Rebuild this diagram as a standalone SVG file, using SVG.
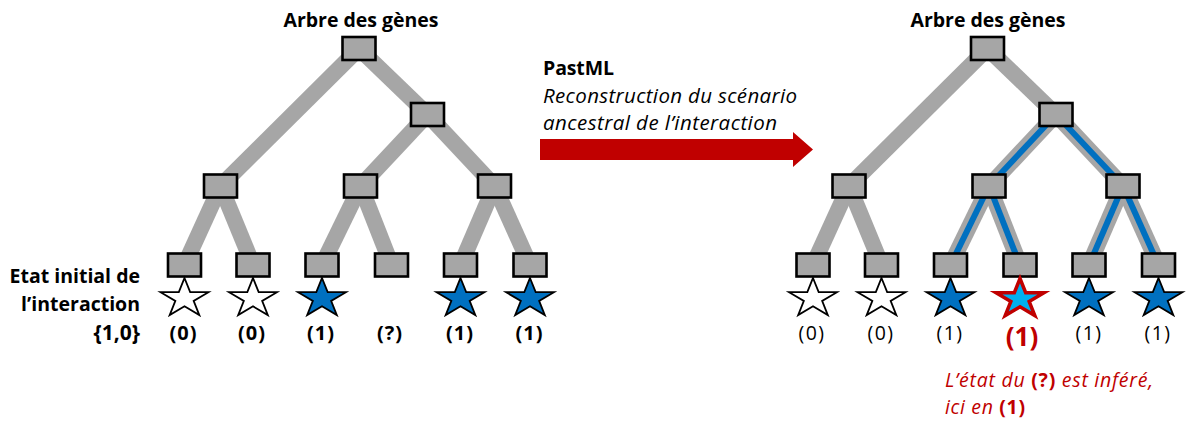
<svg xmlns="http://www.w3.org/2000/svg" xmlns:xlink="http://www.w3.org/1999/xlink" width="1186" height="424" viewBox="0 0 1186 424">
<defs>
<style>
text{font-family:"Open Sans","Liberation Sans",sans-serif;}
.title{font-size:19.5px;font-weight:bold;text-anchor:middle;fill:#000;}
.lbl{font-size:20px;font-weight:bold;text-anchor:middle;fill:#000;letter-spacing:1px;}
.lblr{font-size:19.5px;text-anchor:middle;fill:#000;letter-spacing:1.5px;}
.side{font-size:19.5px;font-weight:bold;text-anchor:end;fill:#000;}
.mid{font-size:20.5px;font-style:italic;fill:#000;}
.note{font-size:19.5px;fill:#c00000;}
.node{fill:#a6a6a6;stroke:#000;stroke-width:2.6;}
.edge{stroke:#a6a6a6;stroke-width:16;fill:none;}
.blue{stroke:#0070c0;stroke-width:6;fill:none;}
.sw{fill:#fff;stroke:#000;stroke-width:1.8;stroke-linejoin:miter;}
.sb{fill:#0070c0;stroke:#000;stroke-width:1.8;stroke-linejoin:miter;}
.sr{fill:#00b0f0;stroke:#c00000;stroke-width:3.5;stroke-linejoin:miter;}
.red{fill:#c00000;}
</style>
<polygon id="star" points="0,-20.5 5.67,-6.33 23.97,-6.33 9.15,2.42 14.82,16.58 0,7.83 -14.82,16.58 -9.15,2.42 -23.97,-6.33 -5.67,-6.33"/>
</defs>
<rect width="1186" height="424" fill="#fff"/>

<!-- Left tree connectors -->
<g id="edges-left">
<line class="edge" x1="359" y1="48.5" x2="220.5" y2="186"/>
<line class="edge" x1="359" y1="48.5" x2="427.5" y2="114.5"/>
<line class="edge" x1="427.5" y1="114.5" x2="360.5" y2="186"/>
<line class="edge" x1="427.5" y1="114.5" x2="494.5" y2="186"/>
<line class="edge" x1="220.5" y1="186" x2="184.5" y2="265"/>
<line class="edge" x1="220.5" y1="186" x2="253" y2="265"/>
<line class="edge" x1="360.5" y1="186" x2="322" y2="265"/>
<line class="edge" x1="360.5" y1="186" x2="391.5" y2="265"/>
<line class="edge" x1="494.5" y1="186" x2="460.5" y2="265"/>
<line class="edge" x1="494.5" y1="186" x2="530" y2="265"/>
</g>

<!-- Right tree connectors -->
<g id="edges-right">
<line class="edge" x1="987.5" y1="48.5" x2="849" y2="186"/>
<line class="edge" x1="987.5" y1="48.5" x2="1056" y2="114.5"/>
<line class="edge" x1="1056" y1="114.5" x2="989" y2="186"/>
<line class="edge" x1="1056" y1="114.5" x2="1123" y2="186"/>
<line class="edge" x1="849" y1="186" x2="813" y2="265"/>
<line class="edge" x1="849" y1="186" x2="881.5" y2="265"/>
<line class="edge" x1="989" y1="186" x2="950.5" y2="265"/>
<line class="edge" x1="989" y1="186" x2="1020" y2="265"/>
<line class="edge" x1="1123" y1="186" x2="1089" y2="265"/>
<line class="edge" x1="1123" y1="186" x2="1158.5" y2="265"/>
<line class="blue" x1="1056" y1="114.5" x2="989" y2="186"/>
<line class="blue" x1="1056" y1="114.5" x2="1123" y2="186"/>
<line class="blue" x1="989" y1="186" x2="950.5" y2="265"/>
<line class="blue" x1="989" y1="186" x2="1020" y2="265"/>
<line class="blue" x1="1123" y1="186" x2="1089" y2="265"/>
<line class="blue" x1="1123" y1="186" x2="1158.5" y2="265"/>
</g>

<!-- Left tree nodes -->
<g id="L-title"><text class="title" x="361" y="27" textLength="155">Arbre des gènes</text></g>
<g id="L-root"><rect class="node" x="342.5" y="37" width="33" height="23"/></g>
<g id="L-n2"><rect class="node" x="411" y="103" width="33" height="23"/></g>
<g id="L-n3a"><rect class="node" x="204" y="174.5" width="33" height="23"/></g>
<g id="L-n3b"><rect class="node" x="344" y="174.5" width="33" height="23"/></g>
<g id="L-n3c"><rect class="node" x="478" y="174.5" width="33" height="23"/></g>
<g id="L-leaf1"><rect class="node" x="168" y="253.5" width="33" height="23"/><use xlink:href="#star" href="#star" class="sw" x="184.5" y="298.5"/><text class="lbl" x="183.5" y="340">(0)</text></g>
<g id="L-leaf2"><rect class="node" x="236.5" y="253.5" width="33" height="23"/><use xlink:href="#star" href="#star" class="sw" x="253" y="298.5"/><text class="lbl" x="252" y="340">(0)</text></g>
<g id="L-leaf3"><rect class="node" x="305.5" y="253.5" width="33" height="23"/><use xlink:href="#star" href="#star" class="sb" x="322" y="298.5"/><text class="lbl" x="321" y="340">(1)</text></g>
<g id="L-leaf4"><rect class="node" x="375" y="253.5" width="33" height="23"/><text class="lbl" x="390" y="340">(?)</text></g>
<g id="L-leaf5"><rect class="node" x="444" y="253.5" width="33" height="23"/><use xlink:href="#star" href="#star" class="sb" x="460.5" y="298.5"/><text class="lbl" x="460" y="340">(1)</text></g>
<g id="L-leaf6"><rect class="node" x="513.5" y="253.5" width="33" height="23"/><use xlink:href="#star" href="#star" class="sb" x="530" y="298.5"/><text class="lbl" x="529.5" y="340">(1)</text></g>
<g id="L-legend">
<text class="side" x="140" y="283">Etat initial de</text>
<text class="side" x="140" y="311">l’interaction</text>
<text class="side" x="140" y="340" style="font-size:21px;">{1,0}</text>
</g>

<!-- Middle arrow -->
<g id="arrow">
<text x="543" y="75" style="font-size:19.5px;font-weight:bold;" textLength="71">PastML</text>
<text class="mid" x="543" y="103" textLength="254">Reconstruction du scénario</text>
<text class="mid" x="543" y="130" textLength="234">ancestral de l’interaction</text>
<polygon class="red" points="540,139 793,139 793,132 813,149.5 793,167 793,160 540,160"/>
</g>

<!-- Right tree nodes -->
<g id="R-title"><text class="title" x="988" y="27" textLength="155">Arbre des gènes</text></g>
<g id="R-root"><rect class="node" x="971" y="37" width="33" height="23"/></g>
<g id="R-n2"><rect class="node" x="1039.5" y="103" width="33" height="23"/></g>
<g id="R-n3a"><rect class="node" x="832.5" y="174.5" width="33" height="23"/></g>
<g id="R-n3b"><rect class="node" x="972.5" y="174.5" width="33" height="23"/></g>
<g id="R-n3c"><rect class="node" x="1106.5" y="174.5" width="33" height="23"/></g>
<g id="R-leaf1"><rect class="node" x="796.5" y="253.5" width="33" height="23"/><use xlink:href="#star" href="#star" class="sw" x="813" y="298.5"/><text class="lblr" x="812" y="340">(0)</text></g>
<g id="R-leaf2"><rect class="node" x="865" y="253.5" width="33" height="23"/><use xlink:href="#star" href="#star" class="sw" x="881.5" y="298.5"/><text class="lblr" x="881" y="340">(0)</text></g>
<g id="R-leaf3"><rect class="node" x="934" y="253.5" width="33" height="23"/><use xlink:href="#star" href="#star" class="sb" x="950.5" y="298.5"/><text class="lblr" x="950" y="340">(1)</text></g>
<g id="R-leaf4"><rect class="node" x="1003.5" y="253.5" width="33" height="23"/><use xlink:href="#star" href="#star" class="sr" x="1020" y="299"/><text x="1022" y="346" style="font-size:26px;font-weight:bold;text-anchor:middle;fill:#c00000;">(1)</text></g>
<g id="R-leaf5"><rect class="node" x="1072.5" y="253.5" width="33" height="23"/><use xlink:href="#star" href="#star" class="sb" x="1089" y="298.5"/><text class="lblr" x="1089" y="340">(1)</text></g>
<g id="R-leaf6"><rect class="node" x="1142" y="253.5" width="33" height="23"/><use xlink:href="#star" href="#star" class="sb" x="1158.5" y="298.5"/><text class="lblr" x="1158" y="340">(1)</text></g>
<g id="R-note">
<text class="note" x="945" y="387" textLength="208"><tspan font-style="italic">L’état du </tspan><tspan font-weight="bold">(?)</tspan><tspan font-style="italic"> est inféré,</tspan></text>
<text class="note" x="945" y="414" textLength="80"><tspan font-style="italic">ici en </tspan><tspan font-weight="bold">(1)</tspan></text>
</g>
</svg>
